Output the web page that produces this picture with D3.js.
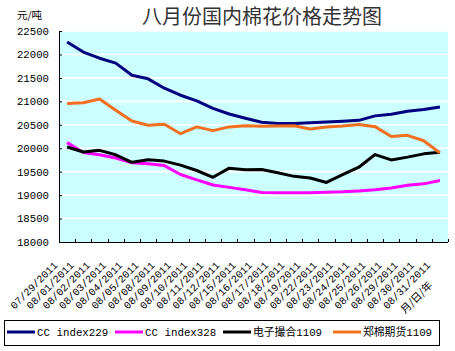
<!DOCTYPE html>
<html>
<head>
<meta charset="utf-8">
<script src="https://cdn.jsdelivr.net/npm/d3@7"></script>
<style>
  body { margin: 0; background: #fff; }
  svg { display: block; }
  text { font-family: "Liberation Mono", "Noto Sans CJK SC", monospace; }
</style>
</head>
<body>
<svg id="chartSvg" width="455" height="351"></svg>
<script>
  // dates on the x axis
  var dates = ['07/29/2011','08/01/2011','08/02/2011','08/03/2011','08/04/2011','08/05/2011',
               '08/08/2011','08/09/2011','08/10/2011','08/11/2011','08/12/2011','08/15/2011',
               '08/16/2011','08/17/2011','08/18/2011','08/19/2011','08/22/2011','08/23/2011',
               '08/24/2011','08/25/2011','08/26/2011','08/29/2011','08/30/2011','08/31/2011'];

  var seriesNames = ['CC index229', 'CC index328', '电子撮合1109', '郑棉期货1109'];

  var ccIndex229 = [22265, 22050, 21920, 21815, 21555, 21480, 21280, 21130, 21010, 20850, 20730, 20640,
                    20555, 20525, 20525, 20545, 20560, 20575, 20595, 20690, 20725, 20790, 20825, 20880];
  var ccIndex328 = [20120, 19910, 19860, 19790, 19690, 19670, 19630, 19440, 19325, 19215, 19165, 19115,
                    19055, 19050, 19050, 19050, 19060, 19070, 19090, 19115, 19150, 19210, 19240, 19310];
  var dianziCuohe = [20025, 19920, 19955, 19860, 19700, 19755, 19725, 19640, 19525, 19380, 19575, 19540,
                     19545, 19475, 19400, 19365, 19270, 19435, 19595, 19865, 19750, 19810, 19880, 19915];
  var zhengMian = [20955, 20970, 21050, 20810, 20580, 20490, 20510, 20310, 20455, 20375, 20455, 20480,
                   20470, 20475, 20480, 20410, 20455, 20475, 20505, 20460, 20250, 20275, 20160, 19900];

  var yTicks = [18000, 18500, 19000, 19500, 20000, 20500, 21000, 21500, 22000, 22500];

  var colors = ['#000080', '#ff00ff', '#000000', '#f07020'];

  var svg = d3.select('#chartSvg');
  var margin = { top: 31, left: 59, right: 7, bottom: 109 };
  var width = 455, height = 351;
  var innerWidth = width - margin.left - margin.right;
  var innerHeight = height - margin.top - margin.bottom;

  var xScale = d3.scaleBand().domain(dates).range([0, innerWidth]);
  var yScale = d3.scaleLinear().domain([18000, 22500]).range([innerHeight, 0]);

  // title + unit
  svg.append('text')
     .attr('x', 262).attr('y', 24)
     .attr('text-anchor', 'middle')
     .style('font-family', '"Noto Sans CJK SC"')
     .style('font-size', '20px')
     .style('fill', '#333')
     .text('八月份国内棉花价格走势图');
  svg.append('text')
     .attr('x', 17).attr('y', 19)
     .style('font-family', '"Noto Sans CJK SC"')
     .style('font-size', '10.5px')
     .text('元/吨');

  var g = svg.append('g')
             .attr('transform', 'translate(' + margin.left + ',' + margin.top + ')');

  // plot background and gridlines
  g.append('rect')
   .attr('width', innerWidth).attr('height', innerHeight)
   .style('fill', '#ccffff');
  g.selectAll('.grid')
   .data(yTicks.slice(1))
   .enter()
   .append('line')
   .attr('x1', 0).attr('x2', innerWidth)
   .attr('y1', d => yScale(d)).attr('y2', d => yScale(d))
   .style('stroke', '#fff')
   .style('stroke-width', 1.6);

  // y axis, ticks pointing inward
  var yAxis = d3.axisLeft(yScale).tickValues(yTicks).tickSize(-3).tickPadding(10)
                .tickFormat(d3.format('d'));
  var yG = g.append('g').call(yAxis);
  yG.select('.domain').attr('d', 'M0.5,0V' + innerHeight);
  yG.selectAll('text').style('font-size', '10.7px').style('fill', '#000')
    .attr('x', -10);

  // x axis, ticks between categories pointing inward
  var xG = g.append('g').attr('transform', 'translate(0,' + innerHeight + ')');
  xG.append('line')
    .attr('x1', 0).attr('x2', innerWidth).attr('y1', 0.5).attr('y2', 0.5)
    .style('stroke', '#000');
  xG.selectAll('.xtick')
    .data(dates)
    .enter()
    .append('line')
    .attr('x1', d => Math.round(xScale(d) + xScale.bandwidth()) + 0.5)
    .attr('x2', d => Math.round(xScale(d) + xScale.bandwidth()) + 0.5)
    .attr('y1', 0).attr('y2', -3)
    .style('stroke', '#000');
  xG.selectAll('.xlabel')
    .data(dates)
    .enter()
    .append('text')
    .attr('text-anchor', 'end')
    .attr('transform', d => 'translate(' + (xScale(d) + xScale.bandwidth() / 2 - 9) + ',' + 24 + ') rotate(-45)')
    .style('font-size', '10.3px')
    .text(d => d);
  svg.append('text')
     .attr('text-anchor', 'middle')
     .attr('transform', 'translate(419,300) rotate(-45)')
     .style('font-family', '"Noto Sans CJK SC"')
     .style('font-size', '10.5px')
     .text('月/日/年');

  // series lines
  var allSeries = [ccIndex229, ccIndex328, dianziCuohe, zhengMian];
  var line = d3.line()
               .x((d, i) => xScale(dates[i]) + xScale.bandwidth() / 2)
               .y(d => yScale(d));
  g.selectAll('.series')
   .data(allSeries)
   .enter()
   .append('path')
   .attr('d', d => line(d))
   .style('fill', 'none')
   .style('stroke', (d, i) => colors[i])
   .style('stroke-width', 3)
   .style('stroke-linejoin', 'round');

  // legend
  var legendX = [7, 115, 223, 333];
  svg.append('rect')
     .attr('x', 4.5).attr('y', 320.5).attr('width', 435).attr('height', 25)
     .style('fill', '#fff').style('stroke', '#000');
  var lg = svg.selectAll('.legend')
              .data(seriesNames)
              .enter()
              .append('g')
              .attr('transform', (d, i) => 'translate(' + legendX[i] + ',332)');
  lg.append('line')
    .attr('x1', 0).attr('x2', 28).attr('y1', 0).attr('y2', 0)
    .style('stroke', (d, i) => colors[i])
    .style('stroke-width', 3);
  lg.append('text')
    .attr('x', 30).attr('y', 4)
    .style('font-size', '10.8px')
    .text(d => d);
</script>
</body>
</html>
